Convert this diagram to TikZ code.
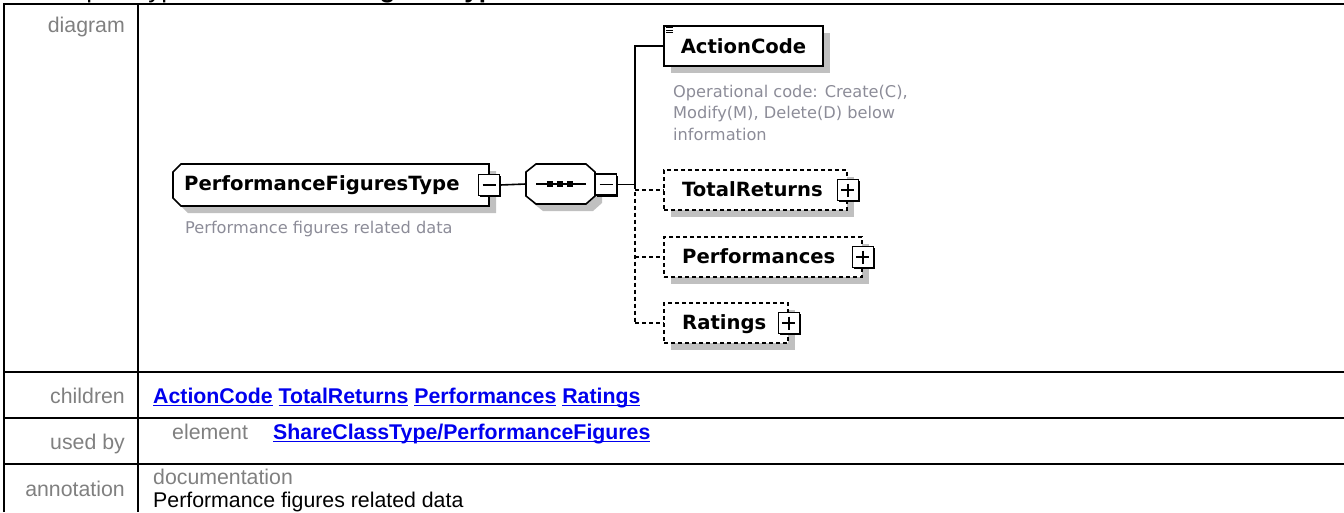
\documentclass[tikz,border=0pt]{standalone}
\usepackage{fontspec}
\setmainfont{Liberation Sans}
\newfontfamily\djv{DejaVu Sans}
\usetikzlibrary{shadows}
\definecolor{lbl}{RGB}{128,128,128}
\definecolor{desc}{RGB}{140,140,152}
\definecolor{shade}{RGB}{192,192,192}
\definecolor{lnk}{RGB}{0,0,238}
\newcommand\lnkul[1]{\leavevmode\setbox0\hbox{#1}\rlap{\rule[-3.2pt]{\wd0}{1.6pt}}\box0}
\tikzset{
  tbl/.style={line width=2pt},
  rowlabel/.style={anchor=base east, text=lbl, inner sep=0pt, font=\fontsize{21.3}{24}\selectfont},
  rowtext/.style={anchor=base west, inner sep=0pt, font=\fontsize{21.3}{24}\selectfont},
  linktext/.style={anchor=base west, inner sep=0pt, text=lnk, font=\bfseries\fontsize{21.3}{24}\selectfont},
  elname/.style={anchor=base west, inner sep=0pt, font=\djv\bfseries\fontsize{19.6}{22}\selectfont},
  desctext/.style={anchor=base west, inner sep=0pt, text=desc, align=left, font=\djv\fontsize{16.2}{21.5}\selectfont},
  elline/.style={line width=1.6pt},
  optline/.style={line width=1.6pt, dash pattern=on 4pt off 3pt},
  grayshadow/.style={drop shadow={shadow xshift=7pt, shadow yshift=-7pt, fill=shade, opacity=1}},
  elbox/.style={draw, fill=white, line width=1.6pt, inner sep=0pt, grayshadow},
  optbox/.style={elbox, dash pattern=on 4pt off 3pt},
  expbox/.style={draw, fill=white, line width=1.4pt, minimum size=21pt, inner sep=0pt,
    drop shadow={shadow xshift=1.8pt, shadow yshift=-1.8pt, fill=black, opacity=1}},
  minusbox/.style={expbox, path picture={\draw[line width=1.4pt]
    ([xshift=4pt]path picture bounding box.west) -- ([xshift=-4pt]path picture bounding box.east);}},
  plusbox/.style={expbox, path picture={\draw[line width=1.4pt]
    ([xshift=4pt]path picture bounding box.west) -- ([xshift=-4pt]path picture bounding box.east)
    ([yshift=-4pt]path picture bounding box.north) -- ([yshift=4pt]path picture bounding box.south);}}
}
\begin{document}
\begin{tikzpicture}[x=1pt,y=-1pt]
\useasboundingbox (0,0) rectangle (1344,512);
% header line, mostly cut off at the top edge as in the reference
\node[anchor=base west, inner sep=0pt, font=\fontsize{26}{28}\selectfont] (hdr) at (37,-2.5) {complexType \textbf{PerformanceFiguresType}};
% table frame
\draw[tbl] (4,512) -- (4,4) -- (1344,4);
\draw[tbl] (138,4) -- (138,512);
\draw[tbl] (4,372) -- (1344,372);
\draw[tbl] (4,418) -- (1344,418);
\draw[tbl] (4,464) -- (1344,464);
% row labels
\node[rowlabel] (l-diagram) at (125,32) {diagram};
\node[rowlabel] (l-children) at (125,403) {children};
\node[rowlabel] (l-usedby) at (125,449) {used by};
\node[rowlabel] (l-annot) at (125,496) {annotation};
% row contents
\node[linktext] (children) at (153,403) {\lnkul{ActionCode}\ \lnkul{TotalReturns}\ \lnkul{Performances}\ \lnkul{Ratings}};
\node[rowtext, text=lbl] (elem) at (172,439) {element};
\node[linktext] (usedby) at (273,439) {\lnkul{ShareClassType/PerformanceFigures}};
\node[rowtext, text=lbl] (doc) at (153,484) {documentation};
\node[rowtext] (anntext) at (153,507) {Performance figures related data};

% complex type
\draw[elline, fill=white, grayshadow] (181,164) -- (489,164) -- (489,206) -- (181,206) -- (173,198) -- (173,172) -- cycle;
\node[elname] (ct) at (184,190.5) {PerformanceFiguresType};
\node[minusbox] (ctm) at (489,185) {};
\node[desctext] (ctd) at (185,233) {Performance figures related data};

% sequence compositor
\node[inner sep=0pt, minimum width=69pt, minimum height=40pt] (seq) at (560.5,184) {};
\draw[elline, fill=white, grayshadow] (536,164) -- (586,164) -- (595,172) -- (595,196) -- (586,204) -- (536,204) -- (526,196) -- (526,172) -- cycle;
\draw[elline] (536,184) -- (586,184);
\fill (547,181) rectangle (553,187);
\fill (557,181) rectangle (563,187);
\fill (567,181) rectangle (573,187);
\node[minusbox] (seqm) at (606,184.5) {};

% children
\node[elbox, minimum width=159pt, minimum height=40pt, font=\djv\bfseries\fontsize{19.6}{22}\selectfont, text height=14pt, text depth=0pt] (ac) at (743.5,46) {ActionCode};
\draw[line width=0.9pt] ([shift={(3,2.5)}]ac.north west) -- ++(7,0)
  ([shift={(3,5)}]ac.north west) -- ++(7,0)
  ([shift={(3,7.5)}]ac.north west) -- ++(7,0);
\node[desctext] (acd) at (673,140) {Operational code: Create(C),\\Modify(M), Delete(D) below\\information};

\node[optbox, minimum width=183pt, minimum height=40pt] (tr) at (755.5,190) {};
\node[elname] (trt) at (682,196.5) {TotalReturns};
\node[plusbox] (trp) at (tr.east) {};

\node[optbox, minimum width=198pt, minimum height=40pt] (pe) at (763,257) {};
\node[elname] (pet) at (682,263.5) {Performances};
\node[plusbox] (pep) at (pe.east) {};

\node[optbox, minimum width=124pt, minimum height=40pt] (ra) at (726,323) {};
\node[elname] (rat) at (682,329.5) {Ratings};
\node[plusbox] (rap) at (ra.east) {};

% connectors
\coordinate (br) at (635,184.5);
\draw[elline] (ctm.east) -- (seq.west);
\draw[elline] (seqm.east) -- (br);
\draw[elline] (br) |- (ac.west);
\draw[optline] (br) -- (br |- ra.west);
\draw[optline] (br |- tr.west) -- (tr.west);
\draw[optline] (br |- pe.west) -- (pe.west);
\draw[optline] (br |- ra.west) -- (ra.west);
\end{tikzpicture}
\end{document}
